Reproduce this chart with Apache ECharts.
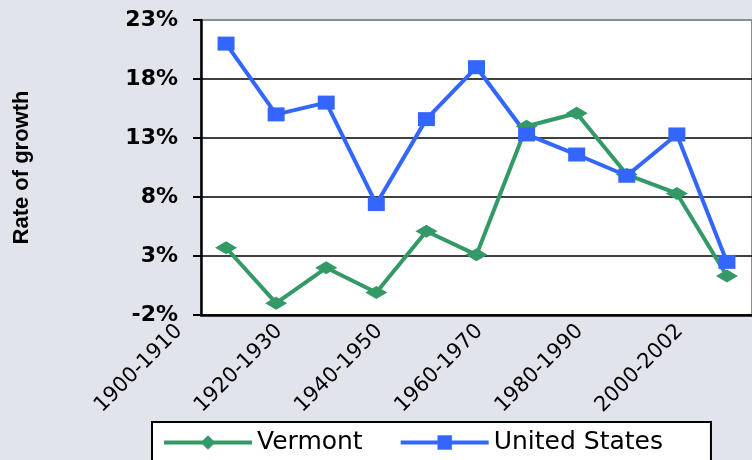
<!DOCTYPE html>
<html>
<head>
<meta charset="utf-8">
<script src="https://cdn.jsdelivr.net/npm/echarts@6/dist/echarts.min.js"></script>
<style>
  html, body { margin: 0; padding: 0; background: #e1e4eb; }
  #main { width: 752px; height: 460px; }
</style>
</head>
<body>
<div id="main"></div>
<script>
// decades on the x axis
var categories = ['1900-1910', '1910-1920', '1920-1930', '1930-1940', '1940-1950', '1950-1960',
                  '1960-1970', '1970-1980', '1980-1990', '1990-2000', '2000-2002'];
// growth rates, percent
var vermont = [3.7, -1.0, 2.0, -0.1, 5.1, 3.1, 14.0, 15.1, 9.9, 8.3, 1.3];
var unitedStates = [21.0, 15.0, 16.0, 7.4, 14.6, 19.0, 13.3, 11.6, 9.8, 13.3, 2.5];
// y axis ticks
var yMin = -2, yMax = 23, yStep = 5;

var myChart = echarts.init(document.getElementById('main'));

option = {
    backgroundColor: '#e1e4eb',
    animation: false,
    grid: {
        left: 201, top: 20, right: -4, bottom: 145,
        show: true,
        backgroundColor: '#ffffff',
        borderColor: '#8c8c8c',
        borderWidth: 2
    },
    legend: {
        data: ['Vermont', 'United States'],
        left: 152, top: 422,
        backgroundColor: '#ffffff',
        borderColor: '#000000',
        borderWidth: 2,
        borderRadius: 0,
        padding: [8, 48, 30, 10],
        itemWidth: 88,
        itemHeight: 18,
        itemGap: 36,
        lineStyle: { width: 4 },
        textStyle: { fontFamily: 'DejaVu Sans', fontSize: 25, color: '#000' }
    },
    xAxis: {
        type: 'category',
        data: categories,
        boundaryGap: true,
        axisLine: { onZero: false, lineStyle: { color: '#000', width: 2.5 } },
        axisTick: { interval: 0, length: 8, lineStyle: { color: '#000', width: 2 } },
        axisLabel: {
            interval: 1,
            rotate: 45,
            margin: 12,
            align: 'right',
            verticalAlign: 'bottom',
            // shifts the rotated labels about one category to the left
            padding: [0, 34, 22, 0],
            fontFamily: 'DejaVu Sans',
            fontSize: 21,
            color: '#000'
        }
    },
    yAxis: {
        type: 'value',
        min: yMin, max: yMax, interval: yStep,
        name: 'Rate of growth',
        nameLocation: 'middle',
        nameRotate: 90,
        nameGap: 168,
        nameTextStyle: { fontFamily: 'Liberation Sans', fontWeight: 'bold', fontSize: 22, color: '#000' },
        axisLine: { show: true, lineStyle: { color: '#000', width: 2.5 } },
        axisTick: { show: true, length: 8, lineStyle: { color: '#000', width: 2 } },
        axisLabel: {
            margin: 23,
            formatter: '{value}%',
            fontFamily: 'DejaVu Sans',
            fontWeight: 'bold',
            fontSize: 22,
            color: '#000'
        },
        splitLine: {
            lineStyle: {
                color: ['#000', '#000', '#000', '#000', '#000', '#8c8c8c'],
                width: 1.5
            }
        }
    },
    series: [
        {
            name: 'Vermont',
            type: 'line',
            data: vermont,
            symbol: 'diamond',
            symbolSize: [22, 13],
            itemStyle: { color: '#339966' },
            lineStyle: { color: '#339966', width: 4 }
        },
        {
            name: 'United States',
            type: 'line',
            data: unitedStates,
            symbol: 'rect',
            symbolSize: [17, 14],
            itemStyle: { color: '#3366ff' },
            lineStyle: { color: '#3366ff', width: 4 }
        }
    ]
};

myChart.setOption(option);
</script>
</body>
</html>
